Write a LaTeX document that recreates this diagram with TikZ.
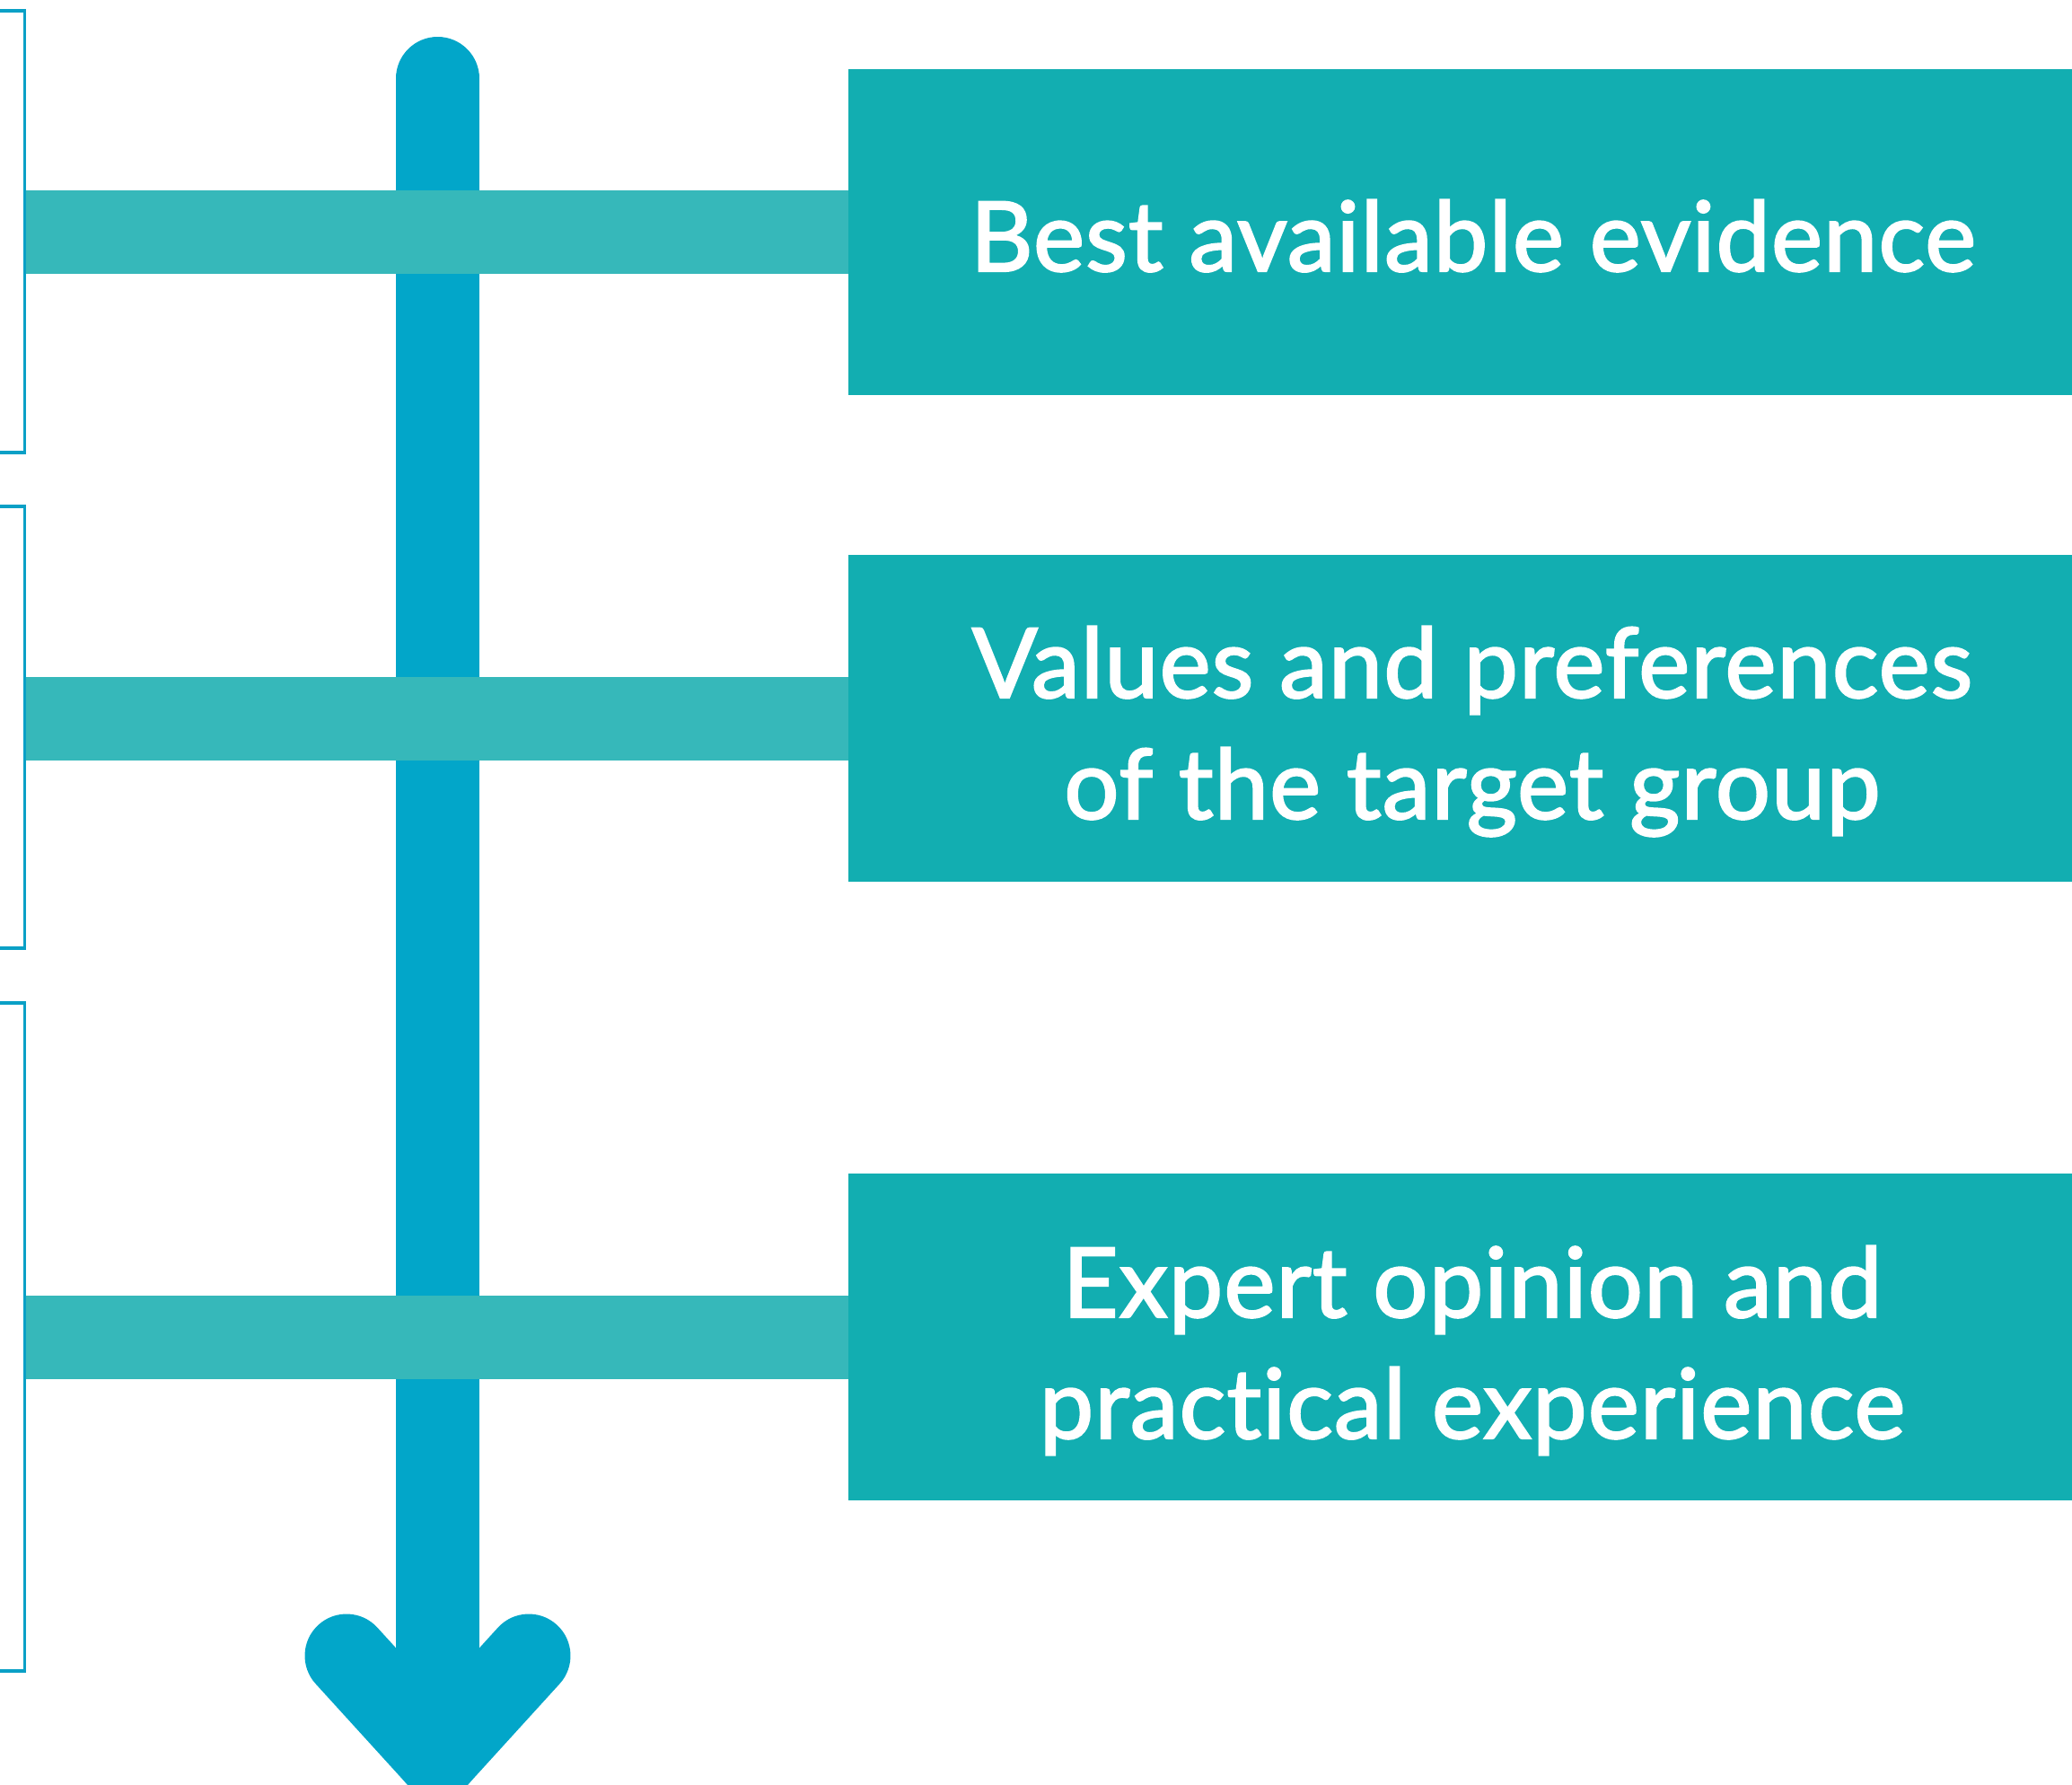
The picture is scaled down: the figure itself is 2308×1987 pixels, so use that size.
\documentclass[tikz,border=0pt]{standalone}
\usepackage{fontspec}
\setmainfont{Lato}[Ligatures={NoCommon,NoDiscretionary,NoRare}]
\newfontfamily\boxfont{Lato}[Ligatures={NoCommon,NoDiscretionary,NoRare}, LetterSpace=1.0, FakeBold=2]
\definecolor{boxteal}{RGB}{18,174,177}
\definecolor{barteal}{RGB}{54,184,186}
\definecolor{shaftblue}{RGB}{2,166,201}
\definecolor{brkblue}{RGB}{10,160,198}
\begin{document}
\begin{tikzpicture}[x=1pt,y=-1pt,
  evbox/.style={fill=boxteal, minimum width=1390pt, minimum height=363.5pt, inner sep=0pt},
  evtext/.style={text=white, anchor=base, inner sep=0pt, align=center,
    font=\boxfont\fontsize{108}{135}\selectfont},
  barline/.style={draw=barteal, line width=93pt},
  shaftline/.style={draw=shaftblue, line width=93pt, line cap=round},
  headline/.style={draw=shaftblue, line width=93pt, line cap=round, line join=miter},
  brk/.style={draw=brkblue, line width=3.5pt}]
\useasboundingbox (0,0) rectangle (2308,1987);
% brackets
\draw[brk] (-5,12) -- (27.5,12) -- (27.5,504) -- (-5,504);
\draw[brk] (-5,564) -- (27.5,564) -- (27.5,1056) -- (-5,1056);
\draw[brk] (-5,1117) -- (27.5,1117) -- (27.5,1861) -- (-5,1861);
% shaft and head
\coordinate (top) at (487.5,87.5);
\coordinate (join) at (487.5,1955.5);
\coordinate (hl) at (386,1844);
\coordinate (hr) at (589,1844);
\draw[shaftline] (top) -- (join);
\draw[headline] (hl) -- (join) -- (hr);
% boxes
\node[evbox] (b1) at (1640,258.25) {};
\node[evbox] (b2) at (1640,800) {};
\node[evbox] (b3) at (1640,1489) {};
\node[evtext] (t1) at (1641,302) {Best available evidence};
\node[evtext] (t2) at (1640,912) {Values and preferences\\of the target group};
\node[evtext] (t3) at (1640,1602) {Expert opinion and\\practical experience};
% bars
\coordinate (k1) at (29,258.25);
\coordinate (k2) at (29,800);
\coordinate (k3) at (29,1489);
\draw[barline] (k1) -- (b1.west);
\draw[barline] (k2) -- (b2.west);
\draw[barline] (k3) -- (b3.west);
\end{tikzpicture}
\end{document}
